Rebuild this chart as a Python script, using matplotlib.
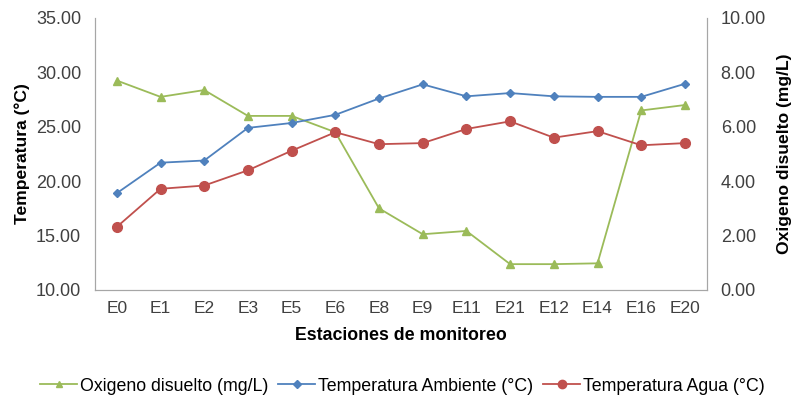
import matplotlib
matplotlib.use("Agg")
import matplotlib.pyplot as plt
from matplotlib.lines import Line2D

plt.rcParams['font.family'] = ['Liberation Sans', 'DejaVu Sans']

estaciones = ["E0", "E1", "E2", "E3", "E5", "E6", "E8", "E9", "E11", "E21", "E12", "E14", "E16", "E20"]
temp_ambiente = [18.9, 21.7, 21.9, 24.9, 25.35, 26.1, 27.6, 28.9, 27.8, 28.1, 27.8, 27.75, 27.75, 28.95]
temp_agua = [15.8, 19.3, 19.6, 21.0, 22.8, 24.5, 23.4, 23.5, 24.8, 25.5, 24.0, 24.6, 23.3, 23.5]
oxigeno = [7.7, 7.1, 7.35, 6.4, 6.4, 5.8, 3.0, 2.05, 2.17, 0.95, 0.95, 0.98, 6.6, 6.8]

c_green = "#9BBB59"
c_blue = "#4F81BD"
c_red = "#C0504D"
spine_c = "#A6A6A6"

fig = plt.figure(figsize=(7.95, 3.98), dpi=100)
ax = fig.add_axes([0.1195, 0.2714, 0.7695, 0.6834])
ax2 = ax.twinx()

x = list(range(len(estaciones)))
ax2.plot(x, oxigeno, color=c_green, marker="^", markersize=6, linewidth=1.3, label="Oxigeno disuelto (mg/L)")
ax.plot(x, temp_ambiente, color=c_blue, marker="D", markersize=4.5, linewidth=1.3, label="Temperatura Ambiente (°C)")
ax.plot(x, temp_agua, color=c_red, marker="o", markersize=7, linewidth=1.3, label="Temperatura Agua (°C)")

ax.set_zorder(ax2.get_zorder() + 1)
ax.patch.set_visible(False)

ax.set_xlim(-0.5, len(estaciones) - 0.5)
ax.set_xticks(x)
ax.set_xticklabels(estaciones)
ax.set_ylim(10, 35)
ax.set_yticks([10, 15, 20, 25, 30, 35])
ax.set_yticklabels([f"{v:.2f}" for v in [10, 15, 20, 25, 30, 35]])
ax2.set_ylim(0, 10)
ax2.set_yticks([0, 2, 4, 6, 8, 10])
ax2.set_yticklabels([f"{v:.2f}" for v in [0, 2, 4, 6, 8, 10]])

for a in (ax, ax2):
    a.tick_params(axis='both', length=0, labelsize=13, colors="#404040", pad=10)
    for s in a.spines.values():
        s.set_color(spine_c)
    a.spines['top'].set_visible(False)
ax.tick_params(axis='x', pad=8, labelsize=12.5)

ax.set_ylabel("Temperatura (°C)", fontsize=12.6, fontweight="bold", labelpad=4)
ax2.set_ylabel("Oxigeno disuelto (mg/L)", fontsize=12.6, fontweight="bold", labelpad=8)
ax.set_xlabel("Estaciones de monitoreo", fontsize=12.8, fontweight="bold", labelpad=8)

handles = [
    Line2D([], [], color=c_green, marker="^", markersize=5, linewidth=1.3),
    Line2D([], [], color=c_blue, marker="D", markersize=4, linewidth=1.3),
    Line2D([], [], color=c_red, marker="o", markersize=6, linewidth=1.3),
]
labels = ["Oxigeno disuelto (mg/L)", "Temperatura Ambiente (°C)", "Temperatura Agua (°C)"]
fig.legend(handles, labels, loc="center", bbox_to_anchor=(0.506, 0.03), ncol=3, frameon=False,
           fontsize=12.8, handlelength=2.1, handletextpad=0.15, columnspacing=0.55)

fig.savefig("out.png", dpi=100)
